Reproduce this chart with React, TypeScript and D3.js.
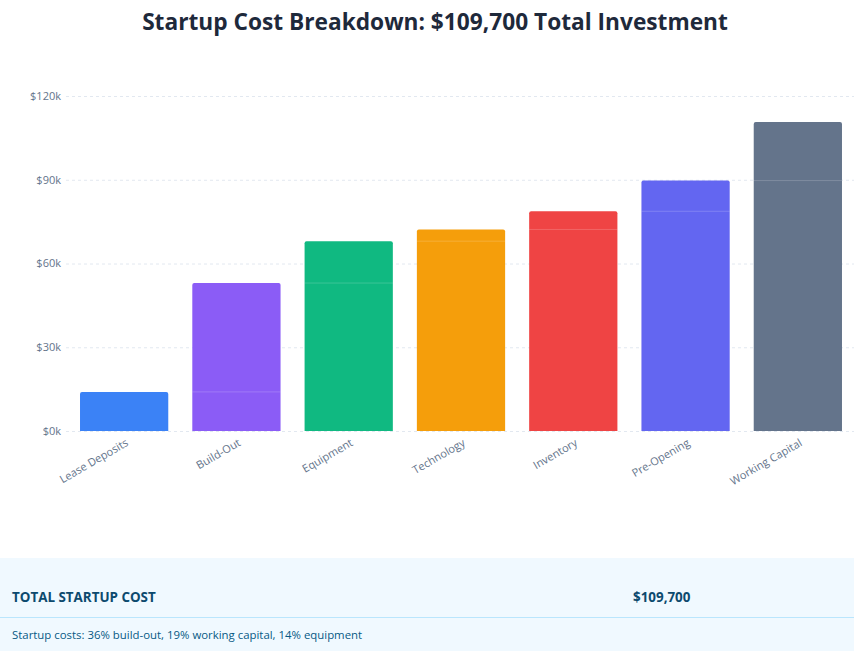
import * as React from "react";
import * as d3 from "d3";

const { useRef, useEffect } = React;

const categories = ["Lease Deposits", "Build-Out", "Equipment", "Technology", "Inventory", "Pre-Opening", "Working Capital"];
const costs = [14000, 39000, 15000, 4200, 6500, 11000, 21000];
const colors = ["#3b82f6", "#8b5cf6", "#10b981", "#f59e0b", "#ef4444", "#6366f1", "#64748b"];
const yTicks = [0, 30000, 60000, 90000, 120000];
const totalLabel = "$109,700";
const summary = "Startup costs: 36% build-out, 19% working capital, 14% equipment";

const W = 854, H = 651;

const App = () => {
  const svgRef = useRef(null);

  useEffect(() => {
    const svg = d3.select(svgRef.current);
    svg.selectAll("*").remove();
    const font = "'Segoe UI', 'Open Sans', sans-serif";

    // running totals for the waterfall
    let acc = 0;
    const rows = categories.map((c, i) => {
      const start = acc;
      acc += costs[i];
      return { name: c, start, end: acc, color: colors[i] };
    });

    const x = d3.scaleBand()
      .domain(categories)
      .range([68, 854])
      .paddingInner(0.214)
      .paddingOuter(0.107);

    const y = d3.scaleLinear()
      .domain([0, 120000])
      .range([431, 96]);

    svg.append("text")
      .attr("x", 435)
      .attr("y", 30)
      .attr("text-anchor", "middle")
      .attr("font-family", font)
      .attr("font-size", 22.7)
      .attr("font-weight", "bold")
      .attr("fill", "#1e293b")
      .text("Startup Cost Breakdown: $109,700 Total Investment");

    // grid
    const grid = svg.append("g");
    grid.selectAll("line")
      .data(yTicks)
      .enter().append("line")
        .attr("x1", 66)
        .attr("x2", 854)
        .attr("y1", d => y(d) + 0.5)
        .attr("y2", d => y(d) + 0.5)
        .attr("stroke", "#e2e8f0")
        .attr("stroke-dasharray", "3,3");

    grid.selectAll("text")
      .data(yTicks)
      .enter().append("text")
        .attr("x", 61)
        .attr("y", d => y(d))
        .attr("dy", "0.35em")
        .attr("text-anchor", "end")
        .attr("font-family", font)
        .attr("font-size", 11)
        .attr("fill", "#64748b")
        .text(d => "$" + d / 1000 + "k");

    const bars = svg.append("g").selectAll("g")
      .data(rows)
      .enter().append("g");

    const r = 2;
    bars.append("path")
      .attr("fill", d => d.color)
      .attr("d", d => {
        const x0 = x(d.name), x1 = x0 + x.bandwidth();
        const y0 = y(0), y1 = y(d.end);
        return `M${x0},${y0}V${y1 + r}Q${x0},${y1} ${x0 + r},${y1}H${x1 - r}Q${x1},${y1} ${x1},${y1 + r}V${y0}Z`;
      });

    bars.filter(d => d.start > 0).append("line")
      .attr("x1", d => x(d.name))
      .attr("x2", d => x(d.name) + x.bandwidth())
      .attr("y1", d => y(d.start))
      .attr("y2", d => y(d.start))
      .attr("stroke", "#ffffff")
      .attr("stroke-opacity", 0.18)
      .attr("stroke-width", 1);

    svg.append("g").selectAll("text")
      .data(categories)
      .enter().append("text")
        .attr("transform", d => `translate(${x(d) + x.bandwidth() / 2 + 5},${445}) rotate(-30)`)
        .attr("text-anchor", "end")
        .attr("font-family", font)
        .attr("font-size", 11)
        .attr("fill", "#64748b")
        .text(d => d);

    // footer panel
    const foot = svg.append("g");
    foot.append("rect")
      .attr("x", 0)
      .attr("y", 558)
      .attr("width", W)
      .attr("height", H - 558)
      .attr("fill", "#f0f9ff");
    foot.append("text")
      .attr("x", 12)
      .attr("y", 602)
      .attr("font-family", font)
      .attr("font-size", 13.4)
      .attr("font-weight", "bold")
      .attr("fill", "#0c4a6e")
      .text("TOTAL STARTUP COST");
    foot.append("text")
      .attr("x", 633)
      .attr("y", 602)
      .attr("font-family", font)
      .attr("font-size", 13.4)
      .attr("font-weight", "bold")
      .attr("fill", "#0c4a6e")
      .text(totalLabel);
    foot.append("line")
      .attr("x1", 0)
      .attr("x2", W)
      .attr("y1", 617.5)
      .attr("y2", 617.5)
      .attr("stroke", "#bae6fd");
    foot.append("text")
      .attr("x", 12)
      .attr("y", 639)
      .attr("font-family", font)
      .attr("font-size", 11.4)
      .attr("fill", "#075985")
      .text(summary);
  }, []);

  return (
    <div style={{ position: "absolute", left: 0, top: 0 }}>
      <svg ref={svgRef} width={W} height={H} style={{ display: "block" }}></svg>
    </div>
  );
};

export default App;
